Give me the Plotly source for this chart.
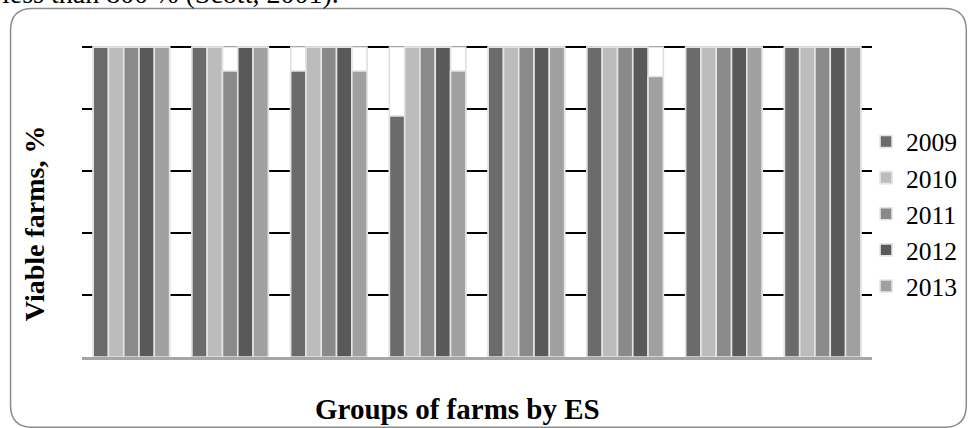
import plotly.graph_objects as go

groups = ["G1", "G2", "G3", "G4", "G5", "G6", "G7", "G8"]
years = ["2009", "2010", "2011", "2012", "2013"]
v2009 = [100, 100, 92.3, 77.8, 100, 100, 100, 100]
v2010 = [100, 100, 100, 100, 100, 100, 100, 100]
v2011 = [100, 92.3, 100, 100, 100, 100, 100, 100]
v2012 = [100, 100, 100, 100, 100, 100, 100, 100]
v2013 = [100, 100, 92.3, 92.3, 100, 90.5, 100, 100]
series = [v2009, v2010, v2011, v2012, v2013]
colors = ["#6b6b6b", "#bcbcbc", "#8a8a8a", "#595959", "#a0a0a0"]
full_scale = [100] * len(groups)

W, H = 974, 428
ymax = 101
L, R, B = 82, 878, 356.7
T = B - 310 * ymax / 100
pw, ph = R - L, B - T


def px(x):
    return (x - L) / pw


def py(y):
    return (B - y) / ph


bw = 0.1548
start = -2.5 * bw

fig = go.Figure()
# slot backgrounds (hide gridlines behind bar slots)
for i in range(5):
    fig.add_trace(go.Bar(
        x=groups, y=full_scale, width=bw, offset=start + i * bw,
        marker=dict(color="white", line=dict(color="#dedede", width=1.5)),
        showlegend=False, hoverinfo="skip"))
for i, (yr, vals) in enumerate(zip(years, series)):
    fig.add_trace(go.Bar(
        x=groups, y=vals, name=yr, width=bw, offset=start + i * bw,
        marker=dict(color=colors[i], line=dict(color="#e4e4e4", width=1.6)),
        legendgroup=yr))

r = 22
x0, x1, y0, y1 = 10, 973, 8, 427
path = (f"M {px(x0+r)},{py(y0)} L {px(x1-r)},{py(y0)} "
        f"Q {px(x1)},{py(y0)} {px(x1)},{py(y0+r)} "
        f"L {px(x1)},{py(y1-r)} Q {px(x1)},{py(y1)} {px(x1-r)},{py(y1)} "
        f"L {px(x0+r)},{py(y1)} Q {px(x0)},{py(y1)} {px(x0)},{py(y1-r)} "
        f"L {px(x0)},{py(y0+r)} Q {px(x0)},{py(y0)} {px(x0+r)},{py(y0)} Z")

fig.update_layout(
    width=W, height=H, barmode="overlay",
    margin=dict(l=L, r=W - R, t=T, b=H - B, pad=0),
    paper_bgcolor="white", plot_bgcolor="white",
    font=dict(family="Liberation Serif", color="black"),
    xaxis=dict(showticklabels=False, ticks="", showgrid=False, showline=True,
               linecolor="#a6a6a6", linewidth=2.5, range=[-0.5, 7.5]),
    yaxis=dict(range=[0, ymax], tick0=0, dtick=20, showticklabels=False, ticks="",
               showgrid=True, gridcolor="black", gridwidth=2, zeroline=False,
               showline=False),
    legend=dict(x=px(872), y=py(118), xanchor="left", yanchor="top",
                font=dict(size=25.5, family="Liberation Serif"),
                tracegroupgap=0, bgcolor="rgba(0,0,0,0)", itemwidth=30),
    shapes=[dict(type="path", xref="paper", yref="paper", path=path,
                 line=dict(color="#8c8c8c", width=1.5), layer="below")],
    annotations=[
        dict(text="<b>Viable farms, %</b>", xref="paper", yref="paper",
             x=px(34), y=py(222.5), xanchor="center", yanchor="middle",
             textangle=-90, showarrow=False,
             font=dict(size=28, family="Liberation Serif")),
        dict(text="<b>Groups of farms by ES</b>", xref="paper", yref="paper",
             x=px(460), y=py(409), xanchor="center", yanchor="middle",
             showarrow=False,
             font=dict(size=29, family="Liberation Serif")),
        dict(text="less than 800 % (Scott, 2001).", xref="paper", yref="paper",
             x=px(-1), y=py(-7), xanchor="left", yanchor="middle",
             showarrow=False, font=dict(size=28, family="Liberation Serif")),
    ],
)

fig.write_html("out.html", config={"displayModeBar": False},
               post_script="document.body.style.margin='0';document.body.style.overflow='hidden';")
